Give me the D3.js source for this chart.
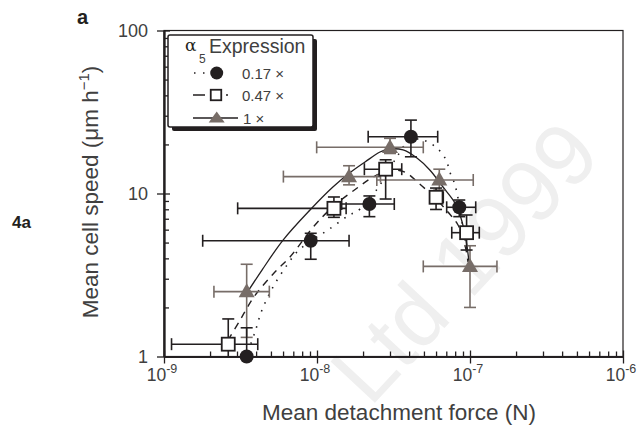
<!DOCTYPE html>
<html>
<head>
<meta charset="utf-8">
<script src="https://cdn.jsdelivr.net/npm/d3@7"></script>
<style>
  body { margin: 0; background: #fff; }
  svg { display: block; font-family: "Liberation Sans", Arial, sans-serif; }
</style>
</head>
<body>
<svg id="chart" width="640" height="426"></svg>
<script>
// values (force in N, speed in um/h)
var seriesLabels = ["0.17 \u00d7", "0.47 \u00d7", "1 \u00d7"];

var circleForce   = [3.47e-9, 9.1e-9, 2.2e-8, 4.11e-8, 8.51e-8];
var circleSpeed   = [1.0, 5.13, 8.62, 22.3, 8.23];
var circleForceLo = [3.47e-9, 1.79e-9, 1.45e-8, 2.16e-8, 7.04e-8];
var circleForceHi = [3.47e-9, 1.62e-8, 3.2e-8, 6.15e-8, 1.09e-7];
var circleSpeedLo = [1.0, 3.95, 7.21, 16.8, 7.21];
var circleSpeedHi = [1.5, 5.7, 9.66, 28.2, 9.12];

var squareForce   = [2.63e-9, 1.29e-8, 2.81e-8, 6.0e-8, 9.5e-8];
var squareSpeed   = [1.19, 8.11, 14.1, 9.48, 5.75];
var squareForceLo = [1.12e-9, 3.03e-9, 2.04e-8, 5.48e-8, 7.6e-8];
var squareForceHi = [4.1e-9, 1.55e-8, 3.58e-8, 6.69e-8, 1.15e-7];
var squareSpeedLo = [1.0, 7.14, 9.25, 7.98, 4.5];
var squareSpeedHi = [1.7, 9.52, 16.1, 10.8, 7.38];

var triForce   = [3.47e-9, 1.62e-8, 3.0e-8, 6.3e-8, 1.0e-7];
var triSpeed   = [2.5, 12.7, 19.2, 12.1, 3.57];
var triForceLo = [2.12e-9, 6.03e-9, 9.95e-9, 2.46e-8, 4.95e-8];
var triForceHi = [4.88e-9, 2.6e-8, 4.95e-8, 1.05e-7, 1.5e-7];
var triSpeedLo = [1.31, 11.3, 17.6, 10.5, 2.0];
var triSpeedHi = [3.68, 14.8, 21.8, 14.1, 4.78];

// fitted curves
var fitLowForce = [3.54e-9, 3.93e-9, 4.37e-9, 5.16e-9, 6.37e-9, 7.4e-9, 9.27e-9, 1.18e-8, 1.59e-8, 1.91e-8, 2.5e-8, 3.0e-8, 3.38e-8, 3.87e-8, 4.57e-8, 5.31e-8, 6.18e-8, 6.97e-8, 7.39e-8, 7.85e-8, 8.22e-8, 8.6e-8, 9.0e-8, 9.42e-8];
var fitLowSpeed = [1.07, 1.41, 1.93, 2.67, 3.64, 4.38, 5.18, 5.97, 7.28, 8.03, 10.8, 14.3, 17.2, 20.4, 21.6, 20.7, 18.75, 16.1, 13.5, 11.8, 10.1, 7.92, 6.14, 4.83];
var fitMidForce = [2.62e-9, 3.14e-9, 3.87e-9, 5.31e-9, 6.66e-9, 9.7e-9, 1.31e-8, 1.83e-8, 2.32e-8, 3.0e-8, 3.76e-8, 4.71e-8, 5.9e-8, 7.18e-8, 8.35e-8, 9.27e-8, 9.71e-8];
var fitMidSpeed = [1.26, 1.67, 2.32, 3.3, 4.08, 6.41, 8.5, 10.8, 12.6, 13.9, 13.5, 11.4, 9.38, 7.7, 6.41, 4.83, 3.8];
var fitHighForce = [3.38e-9, 4.37e-9, 6.0e-9, 9.0e-9, 1.27e-8, 1.64e-8, 2.06e-8, 2.58e-8, 3.0e-8, 3.65e-8, 4.5e-8, 5.48e-8, 6.66e-8, 7.98e-8, 8.73e-8, 9.42e-8, 9.85e-8];
var fitHighSpeed = [2.35, 3.39, 5.18, 7.92, 10.96, 13.4, 15.6, 17.97, 18.75, 18.5, 16.5, 13.9, 10.96, 8.74, 7.07, 5.18, 3.8];

var xMajor = [1e-9, 1e-8, 1e-7, 1e-6];
var xExp = ["-9", "-8", "-7", "-6"];
var yMajor = [1, 10, 100];
var yTickLabels = ["1", "10", "100"];

var ink = "#231f20";
var grey = "#776d68";
var textCol = "#404040";

var svg = d3.select("#chart");

var x = d3.scaleLog().domain([1e-9, 1e-6]).range([164, 623]);
var y = d3.scaleLog().domain([1, 100]).range([356.5, 30.5]);

// watermark
svg.append("text")
  .attr("transform", "translate(370,408) rotate(-47)")
  .attr("font-size", 88)
  .attr("fill", "#efefef")
  .text("Ltd 1999");

// frame
svg.append("rect")
  .attr("x", x(1e-9)).attr("y", y(100))
  .attr("width", x(1e-6) - x(1e-9)).attr("height", y(1) - y(100))
  .attr("fill", "none").attr("stroke", ink).attr("stroke-width", 1.2);

var xMinor = [];
var yMinor = [];
for (var e = -9; e < -6; e++) for (var m = 2; m <= 9; m++) xMinor.push(m * Math.pow(10, e));
for (var e2 = 0; e2 < 2; e2++) for (var m2 = 2; m2 <= 9; m2++) yMinor.push(m2 * Math.pow(10, e2));

function styleAxis(g) {
  g.select(".domain").attr("stroke", ink).attr("stroke-width", 1.6);
  g.selectAll(".tick line").attr("stroke", ink).attr("stroke-width", 1.3);
}

// bottom axis: major ticks cross, minor ticks inside
svg.append("g").attr("transform", "translate(0," + y(1) + ")")
  .call(d3.axisBottom(x).tickValues(xMajor).tickSize(7).tickFormat("").tickSizeOuter(0)).call(styleAxis);
svg.append("g").attr("transform", "translate(0," + y(1) + ")")
  .call(d3.axisBottom(x).tickValues(xMajor).tickSize(-6).tickFormat("").tickSizeOuter(0)).call(styleAxis);
svg.append("g").attr("transform", "translate(0," + y(1) + ")")
  .call(d3.axisBottom(x).tickValues(xMinor).tickSize(-5).tickFormat("").tickSizeOuter(0)).call(styleAxis);

// left axis
svg.append("g").attr("transform", "translate(" + x(1e-9) + ",0)")
  .call(d3.axisLeft(y).tickValues(yMajor).tickSize(7).tickFormat("").tickSizeOuter(0)).call(styleAxis);
svg.append("g").attr("transform", "translate(" + x(1e-9) + ",0)")
  .call(d3.axisLeft(y).tickValues(yMajor).tickSize(-6).tickFormat("").tickSizeOuter(0)).call(styleAxis);
svg.append("g").attr("transform", "translate(" + x(1e-9) + ",0)")
  .call(d3.axisLeft(y).tickValues(yMinor).tickSize(-5).tickFormat("").tickSizeOuter(0)).call(styleAxis);

// tick labels
yMajor.forEach(function (v, i) {
  svg.append("text")
    .attr("x", 148).attr("y", y(v) + 6.5)
    .attr("text-anchor", "end").attr("font-size", 18).attr("fill", textCol)
    .text(yTickLabels[i]);
});
xMajor.forEach(function (v, i) {
  var t = svg.append("text")
    .attr("x", x(v) - 2).attr("y", 381)
    .attr("text-anchor", "middle").attr("font-size", 17.5).attr("fill", textCol);
  t.append("tspan").text("10");
  t.append("tspan").attr("dy", -8).attr("font-size", 12.5).text(xExp[i]);
});

// axis titles
svg.append("text")
  .attr("x", 399).attr("y", 420)
  .attr("text-anchor", "middle").attr("font-size", 22.5).attr("fill", textCol)
  .text("Mean detachment force (N)");

var yt = svg.append("text")
  .attr("transform", "translate(98,192) rotate(-90)")
  .attr("text-anchor", "middle").attr("font-size", 22.5).attr("fill", textCol);
yt.append("tspan").text("Mean cell speed (\u03bcm h");
yt.append("tspan").attr("dy", -9).attr("font-size", 15).text("\u22121");
yt.append("tspan").attr("dy", 9).text(")");

svg.append("text").attr("x", 12).attr("y", 228)
  .attr("font-size", 17).attr("font-weight", "bold").attr("fill", ink).text("4a");
svg.append("text").attr("x", 77).attr("y", 24)
  .attr("font-size", 20).attr("font-weight", "bold").attr("fill", ink).text("a");

// fitted curves
var line = d3.line()
  .x(function (d) { return x(d[0]); })
  .y(function (d) { return y(d[1]); })
  .curve(d3.curveCatmullRom.alpha(0.5));

function fit(fx, fy) { return fx.map(function (v, i) { return [v, fy[i]]; }); }

svg.append("path").datum(fit(fitLowForce, fitLowSpeed)).attr("d", line)
  .attr("fill", "none").attr("stroke", ink).attr("stroke-width", 1.6)
  .attr("stroke-dasharray", "1.5 7");
svg.append("path").datum(fit(fitMidForce, fitMidSpeed)).attr("d", line)
  .attr("fill", "none").attr("stroke", ink).attr("stroke-width", 1.4)
  .attr("stroke-dasharray", "7 6");
svg.append("path").datum(fit(fitHighForce, fitHighSpeed)).attr("d", line)
  .attr("fill", "none").attr("stroke", ink).attr("stroke-width", 1.3);

// error bars + markers
function drawSeries(fx, fy, fxLo, fxHi, fyLo, fyHi, color, marker) {
  var g = svg.append("g");
  var cap = 6;
  fx.forEach(function (v, i) {
    var cx = x(v), cy = y(fy[i]);
    if (fxLo[i] !== fxHi[i]) {
      g.append("line").attr("x1", x(fxLo[i])).attr("x2", x(fxHi[i])).attr("y1", cy).attr("y2", cy);
      g.append("line").attr("x1", x(fxLo[i])).attr("x2", x(fxLo[i])).attr("y1", cy - cap).attr("y2", cy + cap);
      g.append("line").attr("x1", x(fxHi[i])).attr("x2", x(fxHi[i])).attr("y1", cy - cap).attr("y2", cy + cap);
    }
    g.append("line").attr("x1", cx).attr("x2", cx).attr("y1", y(fyLo[i])).attr("y2", y(fyHi[i]));
    g.append("line").attr("x1", cx - cap).attr("x2", cx + cap).attr("y1", y(fyHi[i])).attr("y2", y(fyHi[i]));
    if (fyLo[i] > 1) {
      g.append("line").attr("x1", cx - cap).attr("x2", cx + cap).attr("y1", y(fyLo[i])).attr("y2", y(fyLo[i]));
    }
  });
  g.selectAll("line").attr("stroke", color).attr("stroke-width", 1.6);
  fx.forEach(function (v, i) { marker(g, x(v), y(fy[i])); });
}

function triangle(g, cx, cy, w, h) {
  g.append("path")
    .attr("d", "M" + cx + "," + (cy - h * 0.6) + "L" + (cx + w / 2) + "," + (cy + h * 0.4) +
      "L" + (cx - w / 2) + "," + (cy + h * 0.4) + "Z")
    .attr("fill", grey);
}
function square(g, cx, cy, s) {
  g.append("rect").attr("x", cx - s / 2).attr("y", cy - s / 2).attr("width", s).attr("height", s)
    .attr("fill", "#fff").attr("stroke", ink).attr("stroke-width", 1.8);
}
function circle(g, cx, cy, r) {
  g.append("circle").attr("cx", cx).attr("cy", cy).attr("r", r).attr("fill", ink);
}

drawSeries(triForce, triSpeed, triForceLo, triForceHi, triSpeedLo, triSpeedHi, grey,
  function (g, cx, cy) { triangle(g, cx, cy, 16, 14); });
drawSeries(squareForce, squareSpeed, squareForceLo, squareForceHi, squareSpeedLo, squareSpeedHi, ink,
  function (g, cx, cy) { square(g, cx, cy, 13); });
drawSeries(circleForce, circleSpeed, circleForceLo, circleForceHi, circleSpeedLo, circleSpeedHi, ink,
  function (g, cx, cy) { circle(g, cx, cy, 7); });

// legend
var lg = svg.append("g");
lg.append("rect").attr("x", 172).attr("y", 39).attr("width", 145).attr("height", 92).attr("rx", 2).attr("fill", ink);
lg.append("rect").attr("x", 168).attr("y", 35).attr("width", 145).attr("height", 92).attr("rx", 2)
  .attr("fill", "#fff").attr("stroke", ink).attr("stroke-width", 1.5);
lg.append("text").attr("x", 185).attr("y", 51).attr("font-size", 17)
  .attr("font-family", "'DejaVu Serif', serif").attr("fill", ink).text("\u03b1");
lg.append("text").attr("x", 199).attr("y", 63).attr("font-size", 12).attr("fill", textCol).text("5");
lg.append("text").attr("x", 209).attr("y", 53).attr("font-size", 19.5).attr("fill", textCol).text("Expression");

var rowY = [73, 95, 118];
lg.append("line").attr("x1", 194).attr("x2", 230).attr("y1", rowY[0]).attr("y2", rowY[0])
  .attr("stroke", ink).attr("stroke-width", 1.6).attr("stroke-dasharray", "1.5 7.5");
circle(lg, 216.7, rowY[0], 6.5);
lg.append("line").attr("x1", 193).attr("x2", 229).attr("y1", rowY[1]).attr("y2", rowY[1])
  .attr("stroke", ink).attr("stroke-width", 1.6).attr("stroke-dasharray", "12 21 2 10");
square(lg, 216, rowY[1], 10.5);
lg.append("line").attr("x1", 193).attr("x2", 238).attr("y1", rowY[2]).attr("y2", rowY[2])
  .attr("stroke", ink).attr("stroke-width", 1.4);
triangle(lg, 216.7, rowY[2], 16, 11);
seriesLabels.forEach(function (s, i) {
  lg.append("text").attr("x", i === 2 ? 243 : 242).attr("y", rowY[i] + 5.5)
    .attr("font-size", 15).attr("fill", textCol).text(s);
});
</script>
</body>
</html>
